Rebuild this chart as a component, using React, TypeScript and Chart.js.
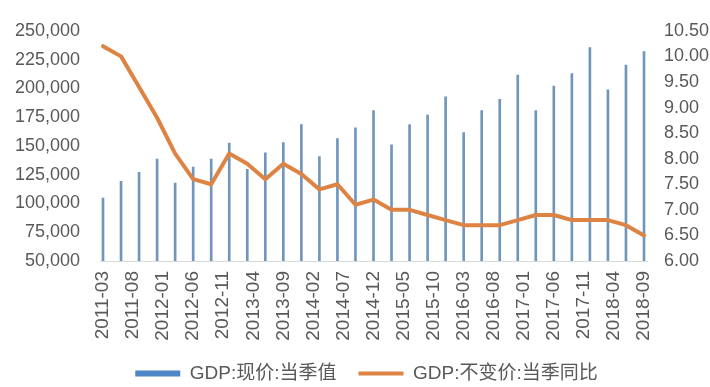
import React, { useEffect, useRef } from 'react';
import { Chart, registerables } from 'chart.js';

Chart.register(...registerables);

const quarters = [
  '2011-03', '2011-06', '2011-09', '2011-12',
  '2012-03', '2012-06', '2012-09', '2012-12',
  '2013-03', '2013-06', '2013-09', '2013-12',
  '2014-03', '2014-06', '2014-09', '2014-12',
  '2015-03', '2015-06', '2015-09', '2015-12',
  '2016-03', '2016-06', '2016-09', '2016-12',
  '2017-03', '2017-06', '2017-09', '2017-12',
  '2018-03', '2018-06', '2018-09',
];

const gdpNominal = [
  104641, 119174, 126981, 138503,
  117593, 131682, 138622, 152468,
  129747, 143967, 152905, 168626,
  140618, 156461, 165711, 180773,
  150987, 168503, 176710, 192572,
  161572, 180744, 190529, 211566,
  180683, 201950, 212789, 235428,
  198783, 220178, 231938,
];

const gdpGrowth = [
  10.2, 10.0, 9.4, 8.8,
  8.1, 7.6, 7.5, 8.1,
  7.9, 7.6, 7.9, 7.7,
  7.4, 7.5, 7.1, 7.2,
  7.0, 7.0, 6.9, 6.8,
  6.7, 6.7, 6.7, 6.8,
  6.9, 6.9, 6.8, 6.8,
  6.8, 6.7, 6.5,
];

const xTickLabels = [
  '2011-03', '2011-08', '2012-01', '2012-06', '2012-11', '2013-04', '2013-09',
  '2014-02', '2014-07', '2014-12', '2015-05', '2015-10', '2016-03', '2016-08',
  '2017-01', '2017-06', '2017-11', '2018-04', '2018-09',
];

const seriesNames = ['GDP:现价:当季值', 'GDP:不变价:当季同比'];

const BAR_COLOR = '#7196bb';
const LEGEND_BLUE = '#4f86c6';
const ORANGE = '#dd8344';
const TEXT = '#595959';

const monthIndex = (s: string) => {
  const [y, m] = s.split('-').map(Number);
  return y * 12 + m - 1;
};

const legendShift = {
  id: 'legendShift',
  afterLayout(chart: any) {
    if (chart.legend) chart.legend.left += 23;
  },
};

export default function App() {
  const ref = useRef<HTMLCanvasElement | null>(null);

  useEffect(() => {
    if (!ref.current) return;
    Chart.defaults.font.family = "'Liberation Sans', 'Noto Sans CJK SC', sans-serif";
    Chart.defaults.color = TEXT;

    const chart = new Chart(ref.current, {
      type: 'bar',
      data: {
        datasets: [
          {
            type: 'bar',
            label: seriesNames[0],
            data: quarters.map((q, i) => ({ x: monthIndex(q), y: gdpNominal[i] })),
            backgroundColor: BAR_COLOR,
            barThickness: 2,
            yAxisID: 'y',
            order: 1,
          },
          {
            type: 'line',
            label: seriesNames[1],
            data: quarters.map((q, i) => ({ x: monthIndex(q), y: gdpGrowth[i] })),
            borderColor: ORANGE,
            backgroundColor: ORANGE,
            borderWidth: 4,
            pointRadius: 0,
            tension: 0,
            borderJoinStyle: 'round',
            borderCapStyle: 'round',
            yAxisID: 'y1',
            order: 0,
          },
        ],
      } as any,
      plugins: [legendShift],
      options: {
        animation: false,
        responsive: false,
        devicePixelRatio: 1,
        layout: { padding: { top: 24, left: 0, right: 0, bottom: -6 } },
        plugins: {
          tooltip: { enabled: false },
          legend: {
            position: 'bottom',
            labels: {
              usePointStyle: true,
              pointStyleWidth: 45,
              boxHeight: 6,
              padding: 22,
              color: TEXT,
              font: { size: 19 },
              generateLabels: (c: any) => {
                const items = (Chart.defaults.plugins.legend.labels as any).generateLabels(c);
                return items
                  .sort((a: any, b: any) => a.datasetIndex - b.datasetIndex)
                  .map((it: any) =>
                    it.datasetIndex === 0
                      ? { ...it, pointStyle: 'rect', fillStyle: LEGEND_BLUE, strokeStyle: LEGEND_BLUE, lineWidth: 0, rotation: 0 }
                      : { ...it, pointStyle: 'line', fillStyle: ORANGE, strokeStyle: ORANGE, lineWidth: 4, rotation: 0 }
                  );
              },
            },
          },
        },
        scales: {
          x: {
            type: 'linear',
            offset: false,
            min: monthIndex(quarters[0]) - 0.5,
            max: monthIndex(quarters[quarters.length - 1]) + 0.5,
            afterBuildTicks: (scale: any) => {
              scale.ticks = xTickLabels.map((l) => ({ value: monthIndex(l) }));
            },
            afterFit: (scale: any) => {
              scale.height = 81;
            },
            grid: { display: false, drawTicks: false, offset: false },
            border: { display: true, color: '#d9d9d9', width: 1 },
            ticks: {
              autoSkip: false,
              minRotation: 90,
              maxRotation: 90,
              padding: 10,
              color: TEXT,
              font: { size: 19 },
              callback: (_v: any, i: number) => xTickLabels[i],
            },
          },
          y: {
            type: 'linear',
            position: 'left',
            min: 50000,
            max: 250000,
            afterFit: (scale: any) => {
              scale.width = 100;
            },
            grid: { display: false, drawTicks: false },
            border: { display: false },
            ticks: {
              stepSize: 25000,
              padding: 20,
              color: TEXT,
              font: { size: 18 },
              callback: (v: any) => Number(v).toLocaleString('en-US'),
            },
          },
          y1: {
            type: 'linear',
            position: 'right',
            min: 6,
            max: 10.5,
            afterFit: (scale: any) => {
              scale.width = 63;
            },
            grid: { display: false, drawTicks: false },
            border: { display: false },
            ticks: {
              stepSize: 0.5,
              padding: 17,
              color: TEXT,
              font: { size: 18 },
              callback: (v: any) => Number(v).toFixed(2),
            },
          },
        },
      } as any,
    });

    return () => chart.destroy();
  }, []);

  return (
    <div style={{ position: 'absolute', left: 0, top: 0, width: 710, height: 387, background: '#fff' }}>
      <canvas ref={ref} width={710} height={387} style={{ display: 'block' }} />
    </div>
  );
}
